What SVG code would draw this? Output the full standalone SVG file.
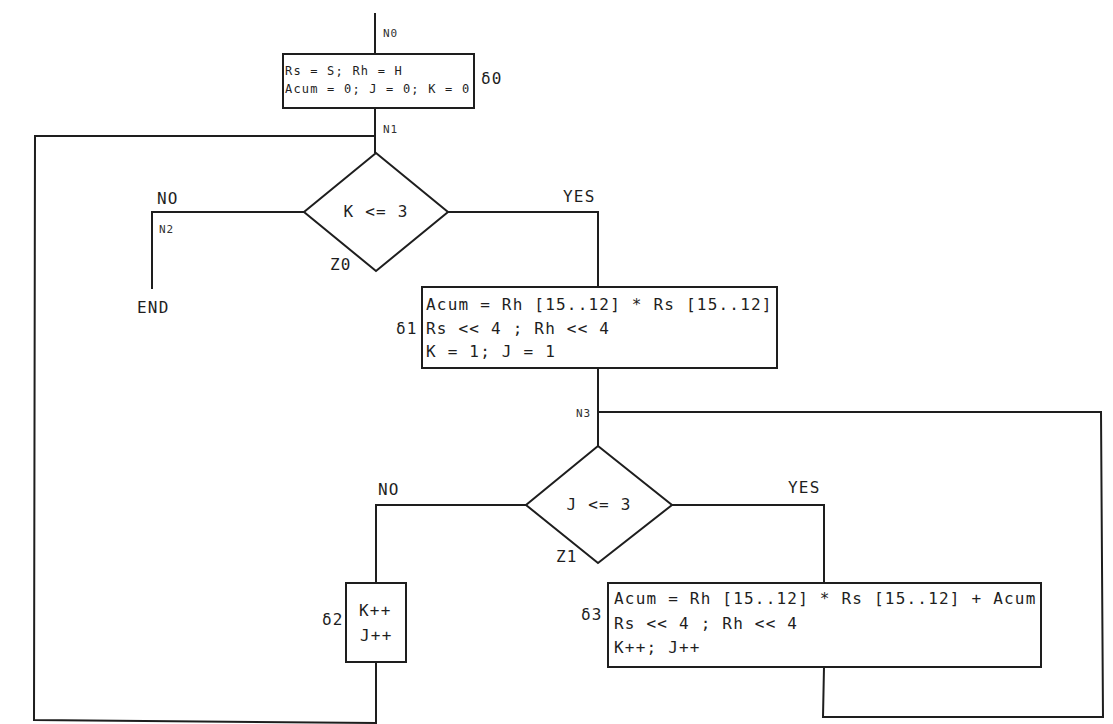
<svg xmlns="http://www.w3.org/2000/svg" width="1113" height="724" viewBox="0 0 1113 724">
<style>
.shape{fill:#fff;stroke:#1e1e1e;stroke-width:2}
.wire{fill:none;stroke:#1e1e1e;stroke-width:2;stroke-linejoin:miter}
.m{font-family:"DejaVu Sans Mono","Liberation Mono",monospace;font-size:16px;letter-spacing:1.2px;fill:#1e1e1e}
.ms{font-family:"DejaVu Sans Mono","Liberation Mono",monospace;font-size:12px;letter-spacing:1.2px;fill:#1e1e1e}
.n{font-family:"DejaVu Sans Mono","Liberation Mono",monospace;font-size:11px;letter-spacing:0.9px;fill:#333}
.c{text-anchor:middle}
</style>
<rect width="1113" height="724" fill="#fff"/>
<g id="connectors">
<path class="wire" d="M375 13 V54"/>
<path class="wire" d="M375 108 V153"/>
<path class="wire" d="M375 136 H35 L34 720 L376 723 V662"/>
<path class="wire" d="M304 212 H152 V289"/>
<path class="wire" d="M448 212 H598 V287"/>
<path class="wire" d="M598 368 V446"/>
<path class="wire" d="M598 412 H1101 L1103 717 H823 L824 667"/>
<path class="wire" d="M526 505 H376 V583"/>
<path class="wire" d="M672 505 H824 V583"/>
</g>
<g id="labels">
<text class="n" x="383" y="37">N0</text>
<text class="n" x="383" y="133">N1</text>
<text class="m" x="157" y="204">NO</text>
<text class="n" x="159" y="233">N2</text>
<text class="m" x="137" y="313">END</text>
<text class="m" x="563" y="202">YES</text>
<text class="n" x="576" y="417">N3</text>
<text class="m" x="378" y="495">NO</text>
<text class="m" x="788" y="493">YES</text>
</g>
<g id="s0">
<rect class="shape" x="283" y="54" width="191" height="54"/>
<text class="ms" x="285" y="75">Rs = S; Rh = H</text>
<text class="ms" x="285" y="93">Acum = 0; J = 0; K = 0</text>
<text class="m" x="481" y="84">δ0</text>
</g>
<g id="z0">
<polygon class="shape" points="376,153 448,212 376,271 304,212"/>
<text class="m c" x="376" y="217">K &lt;= 3</text>
<text class="m" x="330" y="270">Z0</text>
</g>
<g id="s1">
<rect class="shape" x="422" y="287" width="355" height="81"/>
<text class="m" x="426" y="310">Acum = Rh [15..12] * Rs [15..12]</text>
<text class="m" x="426" y="334">Rs &lt;&lt; 4 ; Rh &lt;&lt; 4</text>
<text class="m" x="426" y="357">K = 1; J = 1</text>
<text class="m" x="396" y="334">δ1</text>
</g>
<g id="z1">
<polygon class="shape" points="598,446 672,505 598,563 526,505"/>
<text class="m c" x="599" y="510">J &lt;= 3</text>
<text class="m" x="556" y="562">Z1</text>
</g>
<g id="s2">
<rect class="shape" x="346" y="583" width="60" height="79"/>
<text class="m" x="359" y="616">K++</text>
<text class="m" x="360" y="641">J++</text>
<text class="m" x="322" y="625">δ2</text>
</g>
<g id="s3">
<rect class="shape" x="608" y="583" width="433" height="84"/>
<text class="m" x="614" y="604">Acum = Rh [15..12] * Rs [15..12] + Acum</text>
<text class="m" x="614" y="629">Rs &lt;&lt; 4 ; Rh &lt;&lt; 4</text>
<text class="m" x="614" y="653">K++; J++</text>
<text class="m" x="581" y="620">δ3</text>
</g>
</svg>
